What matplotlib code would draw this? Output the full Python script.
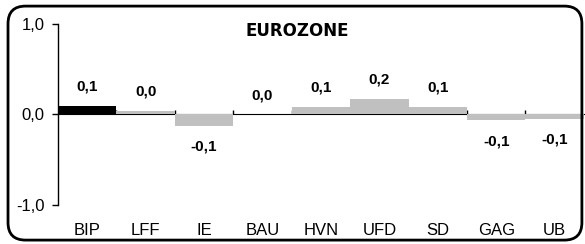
import numpy as np
import matplotlib.pyplot as plt
from matplotlib.patches import FancyBboxPatch

plt.rcParams['font.family'] = ['Liberation Sans', 'DejaVu Sans']

# data
categories = ['BIP', 'LFF', 'IE', 'BAU', 'HVN', 'UFD', 'SD', 'GAG', 'UB']
values = [0.095, 0.036, -0.125, 0.0, 0.084, 0.175, 0.08, -0.063, -0.048]
labels = ['0,1', '0,0', '-0,1', '0,0', '0,1', '0,2', '0,1', '-0,1', '-0,1']
y_ticks = [-1.0, 0.0, 1.0]
y_ticklabels = ['-1,0', '0,0', '1,0']
title = 'EUROZONE'

fig = plt.figure(figsize=(5.85, 2.44), dpi=100)
ax = fig.add_axes([0.0991, 0.16, 0.899, 0.7416])

x = np.arange(len(categories))
colors = ['black'] + ['#c0c0c0'] * (len(categories) - 1)
ax.bar(x, values, width=1.0, color=colors, zorder=2)

ax.set_xlim(-0.5, len(categories) - 0.5)
ax.set_ylim(-1, 1)

# value labels
for xi, v, lab in zip(x, values, labels):
    off = 14 if v >= 0 else -15
    ax.annotate(lab, xy=(xi, v), xytext=(0, off), textcoords='offset points',
                ha='center', va='center', fontsize=11, fontweight='bold')

# y axis
ax.set_yticks(y_ticks)
ax.set_yticklabels(y_ticklabels, fontsize=12)
ax.tick_params(axis='y', direction='out', length=4.5, width=1, pad=5)

# category labels at the bottom
ax.set_xticks(x)
ax.set_xticklabels(categories, fontsize=12)
ax.tick_params(axis='x', length=0, pad=13)

for s in ['top', 'right', 'bottom']:
    ax.spines[s].set_visible(False)
ax.spines['left'].set_linewidth(1)

# zero line with small ticks between categories
sec = ax.secondary_xaxis(0.5)
sec.set_xticks(np.arange(0.5, len(categories) - 0.5, 1.0))
sec.set_xticklabels([])
sec.tick_params(direction='out', length=3, width=1)
sec.spines['bottom'].set_linewidth(1)

fig.text(0.508, 0.873, title, ha='center', va='center', fontsize=12,
         fontweight='bold', family='DejaVu Sans')

# rounded frame
frame = FancyBboxPatch((0.0137, 0.016), 0.981, 0.959, boxstyle='round,pad=0,rounding_size=0.03',
                       transform=fig.transFigure, fill=False, edgecolor='black', linewidth=2,
                       mutation_aspect=2.4)
fig.patches.append(frame)

fig.savefig('out.png', dpi=100)
